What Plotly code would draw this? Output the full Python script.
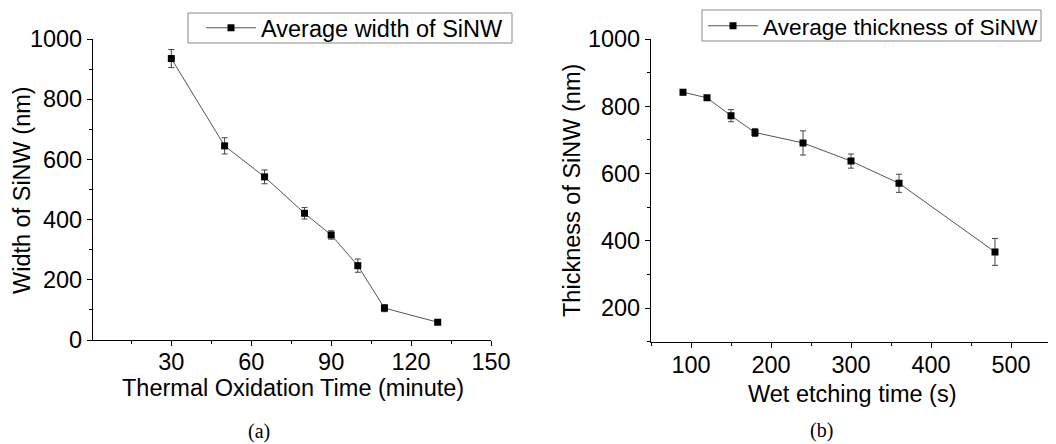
import plotly.graph_objects as go

# Panel (a)
time_a = [30, 50, 65, 80, 90, 100, 110, 130]
width_a = [935, 645, 542, 421, 349, 247, 106, 59]
err_a = [30, 27, 23, 19, 14, 22, 12, 6]

# Panel (b)
time_b = [90, 120, 150, 180, 240, 300, 360, 480]
thick_b = [842, 825, 772, 722, 691, 637, 571, 367]
err_b = [8, 5, 18, 12, 36, 21, 27, 40]

OFF = 8                      # page body margin of the browser
W, H = 1056 - OFF, 444 - OFF
FONT = "Liberation Sans, Arial, sans-serif"
SERIF = "Liberation Serif, Times New Roman, serif"
FS = 23.5

def px(x):
    return (x - OFF) / W

def py(y):
    return 1 - (y - OFF) / H

fig = go.Figure()

common = dict(
    mode="lines+markers",
    line=dict(color="#555555", width=1),
    marker=dict(symbol="square", size=7, color="black"),
)

fig.add_trace(go.Scatter(
    x=time_a, y=width_a, name="Average width of SiNW",
    error_y=dict(type="data", array=err_a, color="#444444", thickness=1, width=3),
    xaxis="x", yaxis="y", legend="legend", **common))

fig.add_trace(go.Scatter(
    x=time_b, y=thick_b, name="Average thickness of SiNW",
    error_y=dict(type="data", array=err_b, color="#444444", thickness=1, width=3),
    xaxis="x2", yaxis="y2", legend="legend2", **common))

axis_common = dict(
    showline=True, linecolor="black", linewidth=1.2,
    ticks="outside", ticklen=5, tickwidth=1.2, tickcolor="black",
    showgrid=False, zeroline=False, automargin=False,
    tickfont=dict(family=FONT, size=FS, color="black"),
)

fig.update_layout(
    width=W, height=H,
    margin=dict(l=0, r=0, t=0, b=0, autoexpand=False),
    paper_bgcolor="white", plot_bgcolor="white",
    showlegend=True,
    xaxis=dict(domain=[px(93), px(491)], range=[0.6, 150], anchor="y",
               tickmode="array", tickvals=[30, 60, 90, 120, 150],
               ticklabelstandoff=-4,
               minor=dict(tickmode="array", tickvals=[15, 45, 75, 105, 135],
                          ticklen=3, tickcolor="black", ticks="outside"),
               **axis_common),
    yaxis=dict(domain=[py(340), py(39)], range=[0, 1000], anchor="x",
               tickmode="linear", tick0=0, dtick=200,
               minor=dict(tickmode="linear", tick0=100, dtick=200,
                          ticklen=3, tickcolor="black", ticks="outside"),
               **axis_common),
    xaxis2=dict(domain=[px(651), px(1051)], range=[50, 550], anchor="y2",
                tickmode="array", tickvals=[100, 200, 300, 400, 500],
                ticklabelstandoff=-3,
                minor=dict(tickmode="array", tickvals=[50, 150, 250, 350, 450, 550],
                           ticklen=3, tickcolor="black", ticks="outside"),
                **axis_common),
    yaxis2=dict(domain=[py(341.7), py(39)], range=[100, 1000], anchor="x2",
                tickmode="array", tickvals=[200, 400, 600, 800, 1000],
                minor=dict(tickmode="array", tickvals=[100, 300, 500, 700, 900],
                           ticklen=3, tickcolor="black", ticks="outside"),
                **axis_common),
    legend=dict(x=px(201), y=py(28), xanchor="left", yanchor="middle",
                bgcolor="rgba(0,0,0,0)", borderwidth=0,
                font=dict(family=FONT, size=FS, color="black"),
                itemwidth=50, tracegroupgap=0),
    legend2=dict(x=px(703), y=py(26), xanchor="left", yanchor="middle",
                 bgcolor="rgba(0,0,0,0)", borderwidth=0,
                 font=dict(family=FONT, size=22.7, color="black"),
                 itemwidth=50, tracegroupgap=0),
)

# legend frames
for (x0, y0, x1, y1) in [(188, 13, 512, 43), (702, 10, 1041, 41)]:
    fig.add_shape(type="rect", xref="paper", yref="paper",
                  x0=px(x0), x1=px(x1), y0=py(y1), y1=py(y0),
                  line=dict(color="#888888", width=1), fillcolor="rgba(0,0,0,0)",
                  layer="below")

ann = [
    dict(text="Thermal Oxidation Time (minute)", x=px(293), y=py(388), size=FS, family=FONT, angle=0),
    dict(text="Wet etching time (s)", x=px(852), y=py(394), size=FS, family=FONT, angle=0),
    dict(text="Width of SiNW (nm)", x=px(22), y=py(190), size=FS, family=FONT, angle=-90),
    dict(text="Thickness of SiNW (nm)", x=px(572), y=py(191), size=FS, family=FONT, angle=-90),
    dict(text="(a)", x=px(259), y=py(431), size=20, family=SERIF, angle=0),
    dict(text="(b)", x=px(821), y=py(430), size=20, family=SERIF, angle=0),
]
for a in ann:
    fig.add_annotation(text=a["text"], x=a["x"], y=a["y"], xref="paper", yref="paper",
                       xanchor="center", yanchor="middle", showarrow=False,
                       textangle=a["angle"],
                       font=dict(family=a["family"], size=a["size"], color="black"))

fig.write_html("out.html")
